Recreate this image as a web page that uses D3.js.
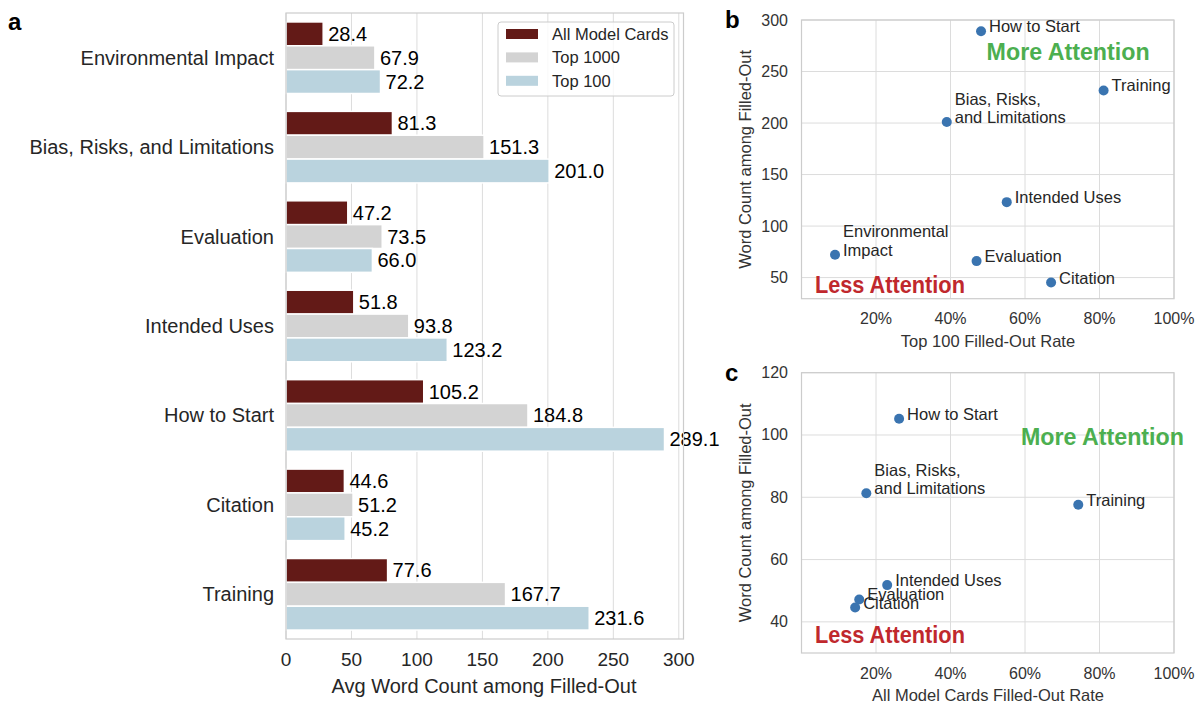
<!DOCTYPE html>
<html>
<head>
<meta charset="utf-8">
<script src="https://cdn.jsdelivr.net/npm/d3@7"></script>
<style>
  body { margin: 0; background: #fff; }
  text { font-family: "Liberation Sans", Arial, sans-serif; fill: #262626; }
  .grid line { stroke: #dcdcdc; stroke-width: 1; }
  .frame { fill: none; stroke: #cccccc; stroke-width: 1.2; }
</style>
</head>
<body>
<div id="chart"></div>
<script>
// Data
const categories = ["Environmental Impact", "Bias, Risks, and Limitations", "Evaluation",
  "Intended Uses", "How to Start", "Citation", "Training"];
const pointLabels = ["Environmental\nImpact", "Bias, Risks,\nand Limitations", "Evaluation",
  "Intended Uses", "How to Start", "Citation", "Training"];
const seriesNames = ["All Model Cards", "Top 1000", "Top 100"];
const allCards = [28.4, 81.3, 47.2, 51.8, 105.2, 44.6, 77.6];
const top1000 = [67.9, 151.3, 73.5, 93.8, 184.8, 51.2, 167.7];
const top100 = [72.2, 201.0, 66.0, 123.2, 289.1, 45.2, 231.6];
const top100Rate = [0.090, 0.390, 0.470, 0.551, 0.482, 0.670, 0.811];
const allRate = [0.060, 0.174, 0.155, 0.230, 0.262, 0.144, 0.743];
const barTicks = [0, 50, 100, 150, 200, 250, 300];
const rateTicks = [0.2, 0.4, 0.6, 0.8, 1.0];
const wordTicksB = [50, 100, 150, 200, 250, 300];
const wordTicksC = [40, 60, 80, 100, 120];

const colors = ["#631a17", "#d3d3d3", "#bad3de"];

const width = 1198, height = 703;
const svg = d3.select("#chart").append("svg")
  .attr("width", width)
  .attr("height", height);

// ---------- panel a: grouped horizontal bars ----------
const x = d3.scaleLinear().domain([0, 303.6]).range([286, 683.5]);
const y = d3.scaleBand().domain(categories).range([13, 639]).padding(0);
const sub = d3.scaleBand().domain(seriesNames)
  .range([y.bandwidth() * 0.1, y.bandwidth() * 0.9]).padding(0);

const gA = svg.append("g");

gA.append("g").attr("class", "grid")
  .selectAll("line").data(barTicks).join("line")
  .attr("x1", d => x(d)).attr("x2", d => x(d))
  .attr("y1", 13).attr("y2", 639);

const series = [allCards, top1000, top100];
series.forEach((vals, si) => {
  gA.append("g").selectAll("rect").data(categories).join("rect")
    .attr("x", x(0))
    .attr("y", d => y(d) + sub(seriesNames[si]))
    .attr("width", (d, i) => x(vals[i]) - x(0))
    .attr("height", sub.bandwidth())
    .attr("fill", colors[si])
    .attr("stroke", "#fff")
    .attr("stroke-width", 1.5);

  gA.append("g").selectAll("text").data(categories).join("text")
    .attr("x", (d, i) => x(vals[i]) + 5)
    .attr("y", d => y(d) + sub(seriesNames[si]) + sub.bandwidth() / 2)
    .attr("dominant-baseline", "central")
    .attr("font-size", "20px")
    .style("fill", "#000")
    .text((d, i) => vals[i].toFixed(1));
});

gA.append("rect").attr("class", "frame")
  .attr("x", 286).attr("y", 13).attr("width", 683.5 - 286).attr("height", 639 - 13);

// category labels
gA.append("g").selectAll("text").data(categories).join("text")
  .attr("x", 274)
  .attr("y", d => y(d) + y.bandwidth() / 2)
  .attr("text-anchor", "end")
  .attr("dominant-baseline", "central")
  .attr("font-size", "20px")
  .text(d => d);

// x ticks
gA.append("g").selectAll("text").data(barTicks).join("text")
  .attr("x", d => x(d))
  .attr("y", 659)
  .attr("text-anchor", "middle")
  .attr("dominant-baseline", "central")
  .attr("font-size", "19px")
  .text(d => d);

gA.append("text")
  .attr("x", 484).attr("y", 686)
  .attr("text-anchor", "middle").attr("dominant-baseline", "central")
  .attr("font-size", "20px")
  .text("Avg Word Count among Filled-Out");

// legend
const legend = gA.append("g").attr("transform", "translate(498,22)");
legend.append("rect")
  .attr("width", 176).attr("height", 74).attr("rx", 3)
  .attr("fill", "#fff").attr("fill-opacity", 0.8)
  .attr("stroke", "#cccccc");
seriesNames.forEach((name, i) => {
  legend.append("rect")
    .attr("x", 8).attr("y", 12 + i * 23.4 - 5)
    .attr("width", 32).attr("height", 10)
    .attr("fill", colors[i]);
  legend.append("text")
    .attr("x", 54).attr("y", 12 + i * 23.4)
    .attr("dominant-baseline", "central")
    .attr("font-size", "16.5px")
    .text(name);
});

gA.append("text")
  .attr("x", 8).attr("y", 30)
  .attr("font-family", "Lato, sans-serif")
  .attr("font-weight", "bold").attr("font-size", "24px")
  .style("fill", "#000")
  .text("a");

// ---------- scatter panels ----------
function scatter(opts) {
  const g = svg.append("g");
  const sx = d3.scaleLinear().domain([0, 1]).range([801.5, 1174]);
  const sy = d3.scaleLinear().domain(opts.yDomain).range([opts.bottom, opts.top]);

  const grid = g.append("g").attr("class", "grid");
  grid.selectAll(".vx").data(rateTicks).join("line")
    .attr("x1", d => sx(d)).attr("x2", d => sx(d))
    .attr("y1", opts.top).attr("y2", opts.bottom);
  grid.selectAll(".hy").data(opts.yTicks).join("line")
    .attr("x1", 801.5).attr("x2", 1174)
    .attr("y1", d => sy(d)).attr("y2", d => sy(d));

  g.append("rect").attr("class", "frame")
    .attr("x", 801.5).attr("y", opts.top)
    .attr("width", 1174 - 801.5).attr("height", opts.bottom - opts.top);

  g.selectAll(".xt").data(rateTicks).join("text")
    .attr("x", d => sx(d)).attr("y", opts.bottom + 20)
    .attr("text-anchor", "middle").attr("dominant-baseline", "central")
    .attr("font-size", "16px").style("fill", "#333")
    .text(d3.format(".0%"));
  g.selectAll(".yt").data(opts.yTicks).join("text")
    .attr("x", 788).attr("y", d => sy(d))
    .attr("text-anchor", "end").attr("dominant-baseline", "central")
    .attr("font-size", "16px").style("fill", "#333")
    .text(d => d);

  g.append("text")
    .attr("x", 988).attr("y", opts.bottom + 42)
    .attr("text-anchor", "middle").attr("dominant-baseline", "central")
    .attr("font-size", "16.5px").style("fill", "#333")
    .text(opts.xLabel);
  g.append("text")
    .attr("transform", `translate(745,${(opts.top + opts.bottom) / 2}) rotate(-90)`)
    .attr("text-anchor", "middle").attr("dominant-baseline", "central")
    .attr("font-size", "16.5px").style("fill", "#333")
    .text("Word Count among Filled-Out");

  const pts = categories.map((c, i) => ({ label: pointLabels[i], rx: opts.rate[i], wy: opts.words[i] }))
    .filter(d => d.wy >= opts.yDomain[0] && d.wy <= opts.yDomain[1]);

  g.selectAll("circle").data(pts).join("circle")
    .attr("cx", d => sx(d.rx)).attr("cy", d => sy(d.wy))
    .attr("r", 5).attr("fill", "#3a74b0");

  pts.forEach(d => {
    const lines = d.label.split("\n");
    const t = g.append("text")
      .attr("font-size", "16.5px").style("fill", "#262626");
    lines.forEach((ln, k) => {
      t.append("tspan")
        .attr("x", sx(d.rx) + 8)
        .attr("y", sy(d.wy) - 5 - (lines.length - 1 - k) * 18.5)
        .attr("dominant-baseline", "central")
        .text(ln);
    });
  });

  g.append("text")
    .attr("x", sx(opts.more[0])).attr("y", sy(opts.more[1]))
    .attr("dominant-baseline", "central")
    .attr("font-family", "Lato, sans-serif").attr("font-weight", "bold")
    .attr("font-size", "23px").style("fill", "#4caf50")
    .attr("textLength", 163).attr("lengthAdjust", "spacingAndGlyphs")
    .text("More Attention");
  g.append("text")
    .attr("x", sx(opts.less[0])).attr("y", sy(opts.less[1]))
    .attr("dominant-baseline", "central")
    .attr("font-family", "Lato, sans-serif").attr("font-weight", "bold")
    .attr("font-size", "23px").style("fill", "#c0282d")
    .attr("textLength", 150).attr("lengthAdjust", "spacingAndGlyphs")
    .text("Less Attention");

  g.append("text")
    .attr("x", 725).attr("y", opts.top + 8)
    .attr("font-family", "Lato, sans-serif")
    .attr("font-weight", "bold").attr("font-size", "24px")
    .style("fill", "#000")
    .text(opts.tag);
}

scatter({
  tag: "b", top: 20, bottom: 298.7, yDomain: [29.5, 300], yTicks: wordTicksB,
  rate: top100Rate, words: top100, xLabel: "Top 100 Filled-Out Rate",
  more: [0.497, 269], less: [0.036, 42.5]
});
scatter({
  tag: "c", top: 372.7, bottom: 653, yDomain: [30, 120], yTicks: wordTicksC,
  rate: allRate, words: allCards, xLabel: "All Model Cards Filled-Out Rate",
  more: [0.589, 99.3], less: [0.036, 35.9]
});
</script>
</body>
</html>
